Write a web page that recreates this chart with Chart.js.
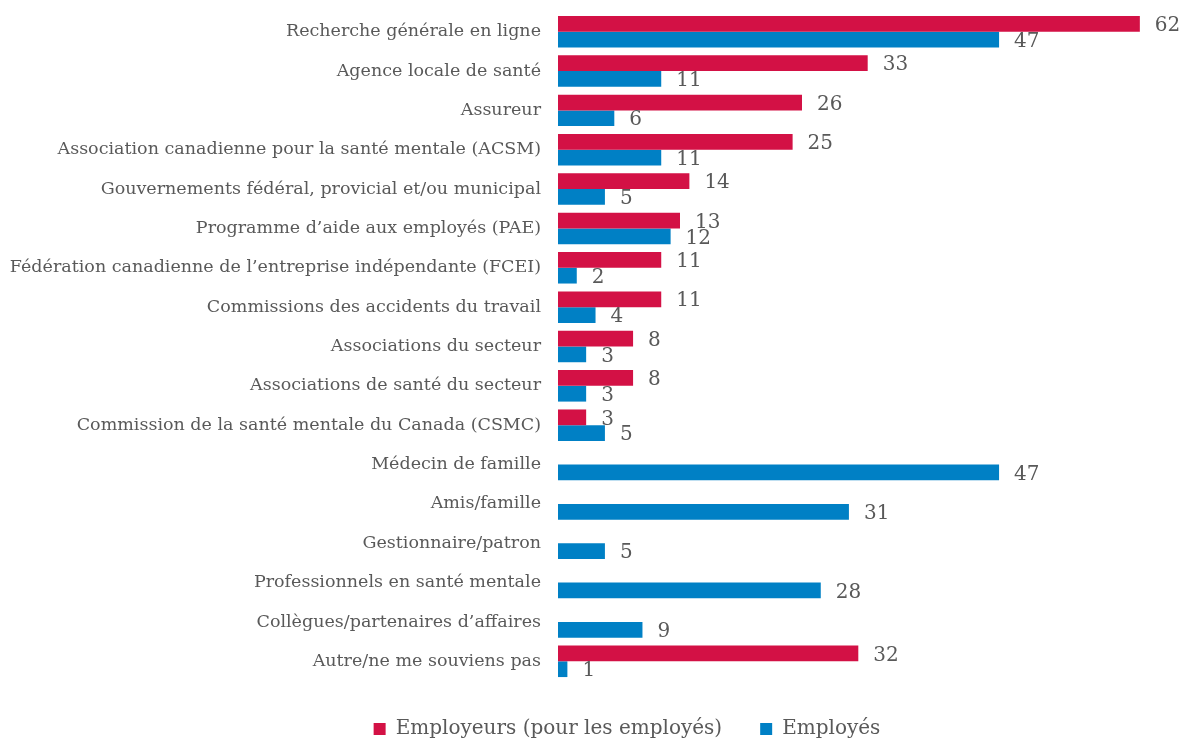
<!DOCTYPE html>
<html>
<head>
<meta charset="utf-8">
<script src="https://cdn.jsdelivr.net/npm/chart.js@4"></script>
<style>
  html, body { margin: 0; padding: 0; background: #ffffff; }
  #wrap { width: 1184px; height: 740px; }
</style>
</head>
<body>
<div id="wrap"><canvas id="chart" width="1184" height="740"></canvas></div>
<script>
const categories = [
  "Recherche générale en ligne",
  "Agence locale de santé",
  "Assureur",
  "Association canadienne pour la santé mentale (ACSM)",
  "Gouvernements fédéral, provicial et/ou municipal",
  "Programme d’aide aux employés (PAE)",
  "Fédération canadienne de l’entreprise indépendante (FCEI)",
  "Commissions des accidents du travail",
  "Associations du secteur",
  "Associations de santé du secteur",
  "Commission de la santé mentale du Canada (CSMC)",
  "Médecin de famille",
  "Amis/famille",
  "Gestionnaire/patron",
  "Professionnels en santé mentale",
  "Collègues/partenaires d’affaires",
  "Autre/ne me souviens pas",
];

const employeurs = [62, 33, 26, 25, 14, 13, 11, 11, 8, 8, 3, null, null, null, null, null, 32];
const employes = [47, 11, 6, 11, 5, 12, 2, 4, 3, 3, 5, 47, 31, 5, 28, 9, 1];

const textColor = "#595959";
const redColor = "#D31145";
const blueColor = "#0080C5";
const fontFamily = "'DejaVu Serif', serif";

const valueLabels = {
  id: "valueLabels",
  afterDatasetsDraw(chart) {
    const ctx = chart.ctx;
    ctx.save();
    ctx.font = `20px ${fontFamily}`;
    ctx.fillStyle = textColor;
    ctx.textBaseline = "middle";
    ctx.textAlign = "left";
    chart.data.datasets.forEach((ds, i) => {
      const meta = chart.getDatasetMeta(i);
      meta.data.forEach((bar, j) => {
        const v = ds.data[j];
        if (v === null || v === undefined) {
          return;
        }
        ctx.fillText(String(v), bar.x + 15, bar.y + 2);
      });
    });
    ctx.restore();
  },
};

// nudge the legend to the right, like the original
const legendShift = {
  id: "legendShift",
  afterLayout(chart) {
    if (chart.legend) {
      chart.legend.left += 43;
      chart.legend.right += 43;
    }
  },
};

new Chart(document.getElementById("chart"), {
  type: "bar",
  data: {
    labels: categories,
    datasets: [
      {
        label: "Employeurs (pour les employés)",
        data: employeurs,
        backgroundColor: redColor,
        barPercentage: 1,
        categoryPercentage: 0.8,
      },
      {
        label: "Employés",
        data: employes,
        backgroundColor: blueColor,
        barPercentage: 1,
        categoryPercentage: 0.8,
      },
    ],
  },
  options: {
    indexAxis: "y",
    responsive: false,
    animation: false,
    layout: {
      padding: { top: 12, right: 16, bottom: -9, left: 0 },
    },
    scales: {
      x: {
        display: false,
        min: 0,
        max: 65,
      },
      y: {
        grid: { display: false, drawTicks: false },
        border: { display: false },
        ticks: {
          color: textColor,
          padding: 17,
          autoSkip: false,
          font: { family: fontFamily, size: 17.5 },
        },
        afterFit(scale) {
          scale.width = 558;
          scale.paddingTop = 0;
          scale.paddingBottom = 0;
        },
      },
    },
    plugins: {
      legend: {
        position: "bottom",
        labels: {
          color: textColor,
          boxWidth: 12,
          boxHeight: 12,
          padding: 38,
          font: { family: fontFamily, size: 20 },
        },
      },
      tooltip: { enabled: false },
    },
  },
  plugins: [valueLabels, legendShift],
});
</script>
</body>
</html>
